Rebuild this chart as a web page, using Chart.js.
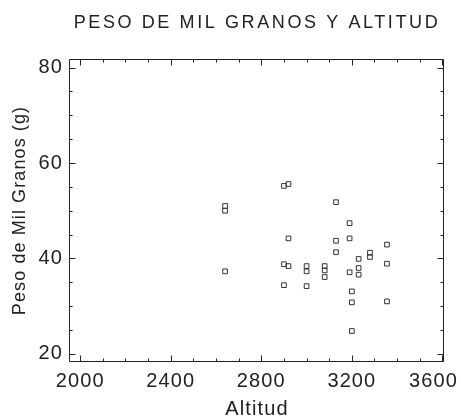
<!DOCTYPE html>
<html>
<head>
<meta charset="utf-8">
<script src="https://cdn.jsdelivr.net/npm/chart.js@4.4.0/dist/chart.umd.min.js"></script>
<style>
  html, body { margin: 0; padding: 0; background: #fff; }
</style>
</head>
<body>
<canvas id="myChart" width="461" height="419"></canvas>
<script>
// datos
let altitud = [2640, 2640, 2640, 2900, 2920, 2920, 2900, 2920, 2900, 3000, 3000, 3000, 3080, 3080, 3080, 3130, 3130, 3130, 3190, 3190, 3190, 3200, 3200, 3200, 3230, 3230, 3230, 3280, 3280, 3355, 3355, 3355];
let peso = [51.0, 50.0, 37.3, 55.2, 55.6, 44.2, 38.8, 38.4, 34.4, 38.4, 37.3, 34.2, 38.4, 37.5, 36.1, 51.8, 43.7, 41.3, 47.4, 44.2, 37.1, 33.1, 30.8, 24.8, 39.9, 38.0, 36.6, 41.2, 40.3, 42.9, 38.9, 31.0];
let xTicks = [2000, 2400, 2800, 3200, 3600];
let yTicks = [20, 40, 60, 80];
let xMinor = 100;
let yMinor = 5;

let puntos = altitud.map((a, i) => ({ x: a, y: peso[i] }));

const fuente = "'Liberation Sans', Arial, sans-serif";
const tinta = '#222';

// marco con marcas hacia dentro en los cuatro lados
const marco = {
    id: 'marco',
    afterDatasetsDraw(chart) {
        const { ctx, chartArea: a, scales: { x, y } } = chart;
        const l = Math.round(a.left) - 0.5, r = Math.round(a.right) - 0.5;
        const t = Math.round(a.top) + 0.5, b = Math.round(a.bottom) - 0.5;
        ctx.save();
        ctx.strokeStyle = tinta;
        ctx.lineWidth = 1;
        ctx.beginPath();
        ctx.rect(l, t, r - l, b - t);
        for (let v = xTicks[0]; v <= xTicks[xTicks.length - 1]; v += xMinor) {
            const px = Math.round(x.getPixelForValue(v)) + 0.5;
            const len = xTicks.includes(v) ? 6 : 3;
            ctx.moveTo(px, b); ctx.lineTo(px, b - len);
            ctx.moveTo(px, t); ctx.lineTo(px, t + len);
        }
        for (let v = yTicks[0]; v <= yTicks[yTicks.length - 1]; v += yMinor) {
            const py = Math.round(y.getPixelForValue(v)) + 0.5;
            const len = yTicks.includes(v) ? 6 : 3;
            ctx.moveTo(l, py); ctx.lineTo(l + len, py);
            ctx.moveTo(r, py); ctx.lineTo(r - len, py);
        }
        ctx.stroke();
        ctx.restore();
    }
};

// texto algo mas ancho, como en el original
const espaciado = {
    id: 'espaciado',
    beforeDraw(chart) {
        const tb = chart.titleBlock;
        if (tb && !tb._espaciado) {
            const dibujar = tb.draw.bind(tb);
            tb.draw = function (area) {
                chart.ctx.save();
                chart.ctx.letterSpacing = '2.6px';
                dibujar(area);
                chart.ctx.restore();
            };
            tb._espaciado = true;
        }
        // la ultima etiqueta del eje x se queda dentro del lienzo
        const items = chart.scales.x.getLabelItems();
        const ultima = items[items.length - 1];
        if (ultima) {
            ultima.options.textAlign = 'right';
            ultima.options.translation[0] = chart.width - 3;
        }
        chart.ctx.letterSpacing = '1.1px';
    },
    afterDraw(chart) {
        chart.ctx.letterSpacing = '0px';
    }
};

let ctx = document.getElementById('myChart').getContext('2d');
let chart = new Chart(ctx, {
    type: 'scatter',
    data: {
        datasets: [
            {
                label: 'Peso de Mil Granos',
                data: puntos,
                pointStyle: 'rect',
                pointRadius: 3.3,
                pointHoverRadius: 3.3,
                borderWidth: 1,
                borderColor: '#333',
                backgroundColor: 'rgba(255,255,255,0)'
            }
        ]
    },
    options: {
        responsive: false,
        animation: false,
        devicePixelRatio: 1,
        layout: { padding: { top: 0, right: 17, bottom: 0, left: 0 } },
        plugins: {
            legend: { display: false },
            tooltip: { enabled: false },
            title: {
                display: true,
                text: 'PESO DE MIL GRANOS Y ALTITUD',
                fullSize: false,
                color: tinta,
                font: { family: fuente, size: 18, weight: 'normal' },
                padding: { top: 12, bottom: 25.4 }
            }
        },
        scales: {
            x: {
                type: 'linear',
                min: 1955,
                max: 3607,
                grid: { display: false, drawTicks: false },
                border: { display: false },
                ticks: {
                    padding: 7,
                    color: tinta,
                    maxRotation: 0,
                    font: { family: fuente, size: 20 },
                    callback: v => String(v)
                },
                afterBuildTicks(s) { s.ticks = xTicks.map(v => ({ value: v })); },
                title: {
                    display: true,
                    text: 'Altitud',
                    color: tinta,
                    font: { family: fuente, size: 20, lineHeight: 1 },
                    padding: { top: 0, bottom: 0 }
                },
                afterFit(s) { s.height = 57; s.paddingLeft = 0; s.paddingRight = 0; }
            },
            y: {
                type: 'linear',
                min: 18.3,
                max: 81.8,
                grid: { display: false, drawTicks: false },
                border: { display: false },
                ticks: {
                    padding: 7,
                    color: tinta,
                    font: { family: fuente, size: 20 }
                },
                afterBuildTicks(s) { s.ticks = yTicks.map(v => ({ value: v })); },
                title: {
                    display: true,
                    text: 'Peso de Mil Granos (g)',
                    color: tinta,
                    font: { family: fuente, size: 18 },
                    padding: { top: 9, bottom: 0 }
                },
                afterFit(s) { s.width = 70; s.paddingTop = 0; s.paddingBottom = 0; }
            }
        }
    },
    plugins: [marco, espaciado]
});
</script>
</body>
</html>
